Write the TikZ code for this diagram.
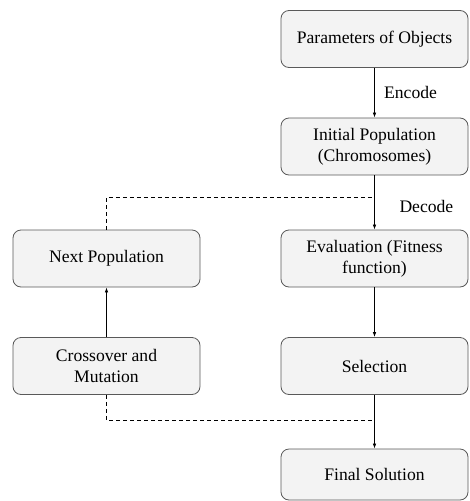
\documentclass[tikz,border=0pt]{standalone}
\usepackage{fontspec}
\setmainfont{Liberation Serif}
\newfontfamily\tnr{Liberation Serif}
\usetikzlibrary{arrows.meta}
\definecolor{boxfill}{HTML}{F3F3F3}
\definecolor{boxline}{HTML}{595959}
\begin{document}
\begin{tikzpicture}[x=1pt,y=-1pt,
  box/.style={draw=boxline,fill=boxfill,rounded corners=8pt,line width=0.8pt,
    minimum width=187pt,minimum height=57pt,align=center,font=\tnr\fontsize{17.6}{21}\selectfont,inner sep=2pt},
  conn/.style={line width=0.7pt,-{Latex[length=5pt,width=3.5pt]}},
  dconn/.style={line width=0.7pt,dashed,dash pattern=on 4pt off 3pt},
  lab/.style={font=\tnr\fontsize{17.6}{21}\selectfont,anchor=west}]
\useasboundingbox (0,0) rectangle (469,501);
\node[box] (par) at (374.5,39) {Parameters of Objects};
\node[box] (ini) at (374.5,146.5) {Initial Population\\(Chromosomes)};
\node[box] (eva) at (374.5,258.5) {Evaluation (Fitness\\function)};
\node[box] (sel) at (374.5,366) {Selection};
\node[box,minimum height=51pt] (fin) at (374.5,474.5) {Final Solution};
\node[box] (nxt) at (106.5,258.5) {Next Population};
\node[box] (cro) at (106.5,366) {Crossover and\\Mutation};
\coordinate (top) at (ini.south |- 0,197);
\coordinate (bot) at (sel.south |- 0,420);
\draw[conn] (par) -- node[lab,right=6pt] {Encode} (ini);
\draw[conn] (ini) -- (eva);
\node[lab] (dec) at (396,206) {Decode};
\draw[conn] (eva) -- (sel);
\draw[conn] (sel) -- (fin);
\draw[conn] (cro) -- (nxt);
\draw[dconn] (nxt.north) |- (top);
\draw[dconn] (cro.south) |- (bot);
\end{tikzpicture}
\end{document}
